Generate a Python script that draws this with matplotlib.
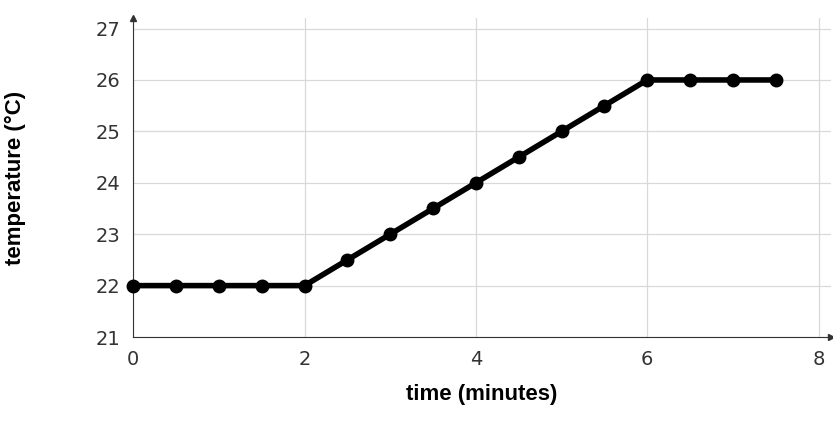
import matplotlib
matplotlib.use("Agg")
import matplotlib.pyplot as plt

time_min = [0, 0.5, 1, 1.5, 2, 2.5, 3, 3.5, 4, 4.5, 5, 5.5, 6, 6.5, 7, 7.5]
temp_c = [22, 22, 22, 22, 22, 22.5, 23, 23.5, 24, 24.5, 25, 25.5, 26, 26, 26, 26]
x_ticks = [0, 2, 4, 6, 8]
y_ticks = [21, 22, 23, 24, 25, 26, 27]

fig = plt.figure(figsize=(8.33, 4.25), dpi=100)
ax = fig.add_axes([0.16, 0.207, 0.837, 0.75])
ax.set_xlim(0, 8.14)
ax.set_ylim(21, 27.2)

ax.set_xticks(x_ticks)
ax.set_yticks(y_ticks)
ax.grid(True, color="#d9d9d9", linewidth=0.9)
ax.set_axisbelow(True)
for s in ["top", "right"]:
    ax.spines[s].set_visible(False)
for s in ["left", "bottom"]:
    ax.spines[s].set_color("#333333")
ax.tick_params(length=0, labelsize=14, colors="#333333", pad=9)

# arrow heads on axes
ax.plot(1, 0, ">", color="#333333", ms=5, transform=ax.transAxes, clip_on=False)
ax.plot(0, 1, "^", color="#333333", ms=5, transform=ax.transAxes, clip_on=False)

ax.plot(time_min, temp_c, color="black", lw=4, marker="o", ms=9, clip_on=False, zorder=3)

ax.set_xlabel("time (minutes)", fontsize=16, fontweight="bold",
              family="Liberation Sans", labelpad=11)
ax.set_ylabel("temperature (°C)", fontsize=16, fontweight="bold",
              family="Liberation Sans", labelpad=50)

fig.savefig("out.png", dpi=100)
